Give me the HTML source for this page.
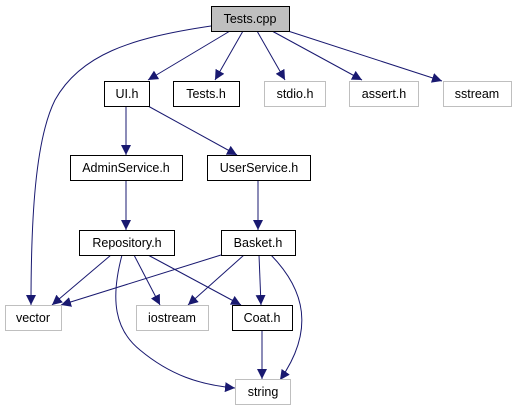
<!DOCTYPE html>
<html><head><meta charset="utf-8"><style>
html,body{margin:0;padding:0;background:#fff;}
svg{display:block;}
text{font-family:"Liberation Sans",sans-serif;font-size:12.5px;fill:#000;text-anchor:middle;}
</style></head><body>
<svg width="517" height="411" viewBox="0 0 517 411" xmlns="http://www.w3.org/2000/svg">
<defs>
<marker id="a" viewBox="0 0 10 10" refX="10" refY="5" markerWidth="10" markerHeight="10" markerUnits="userSpaceOnUse" orient="auto">
<path d="M0,0 L10,5 L0,10 z" fill="#191970"/>
</marker>
</defs>
<g fill="none" stroke="#191970" stroke-width="1" marker-end="url(#a)">
<path d="M211,26 C130,38 80,55 55,100 C35,140 31,220 31,305"/>
<path d="M230,31 L148,80"/>
<path d="M243,31 L215,80"/>
<path d="M257,31 L285,80"/>
<path d="M272,31 L362,80"/>
<path d="M288,31 L442,81"/>
<path d="M126,106 L126,155"/>
<path d="M148,106 L237,155"/>
<path d="M126,180 L126,230"/>
<path d="M258,180 L258,230"/>
<path d="M111,255 L52,305"/>
<path d="M134,255 L160,305"/>
<path d="M148,255 L241,305"/>
<path d="M122,255 C110,300 115,330 140,350 C170,375 200,385 235,388"/>
<path d="M221,255 L61,305"/>
<path d="M244,255 L188,305"/>
<path d="M259,255 L261,305"/>
<path d="M271,255 C305,290 315,330 280,380"/>
<path d="M262,330 L262,379"/>
</g>
<g stroke-width="1">
<rect x="211.5" y="6.5" width="78" height="25" fill="#bfbfbf" stroke="#000"/>
<rect x="104.5" y="81.5" width="45" height="25" fill="#fff" stroke="#000"/>
<rect x="173.5" y="81.5" width="66" height="25" fill="#fff" stroke="#000"/>
<rect x="264.5" y="81.5" width="61" height="25" fill="#fff" stroke="#bfbfbf"/>
<rect x="349.5" y="81.5" width="69" height="25" fill="#fff" stroke="#bfbfbf"/>
<rect x="443.5" y="81.5" width="68" height="25" fill="#fff" stroke="#bfbfbf"/>
<rect x="70.5" y="155.5" width="112" height="25" fill="#fff" stroke="#000"/>
<rect x="207.5" y="155.5" width="103" height="25" fill="#fff" stroke="#000"/>
<rect x="79.5" y="230.5" width="95" height="25" fill="#fff" stroke="#000"/>
<rect x="221.5" y="230.5" width="74" height="25" fill="#fff" stroke="#000"/>
<rect x="5.5" y="305.5" width="56" height="25" fill="#fff" stroke="#bfbfbf"/>
<rect x="136.5" y="305.5" width="72" height="25" fill="#fff" stroke="#bfbfbf"/>
<rect x="232.5" y="305.5" width="60" height="25" fill="#fff" stroke="#000"/>
<rect x="235.5" y="379.5" width="55" height="25" fill="#fff" stroke="#bfbfbf"/>
</g>
<text x="250" y="23">Tests.cpp</text>
<text x="127" y="98">UI.h</text>
<text x="206" y="98">Tests.h</text>
<text x="295" y="98">stdio.h</text>
<text x="384" y="98">assert.h</text>
<text x="477" y="98">sstream</text>
<text x="126" y="172">AdminService.h</text>
<text x="259" y="172">UserService.h</text>
<text x="127" y="247">Repository.h</text>
<text x="258" y="247">Basket.h</text>
<text x="33" y="322">vector</text>
<text x="172" y="322">iostream</text>
<text x="262" y="322">Coat.h</text>
<text x="263" y="396">string</text>
</svg>
</body></html>
